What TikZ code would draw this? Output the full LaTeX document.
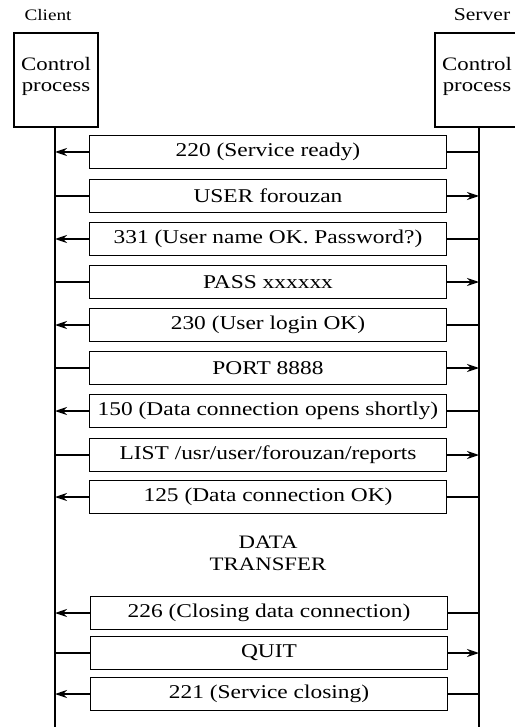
\documentclass[tikz,border=0pt]{standalone}
\usepackage{fontspec}
\setmainfont{Liberation Serif}[FakeStretch=1.2]
\usetikzlibrary{arrows.meta}

\tikzset{
  procbox/.style={draw, line width=1.6pt, minimum width=84pt, minimum height=94pt,
    align=center, inner sep=0pt, font=\fontsize{19}{21}\selectfont},
  msgbox/.style={draw, line width=1.4pt, minimum width=357pt, minimum height=33pt,
    inner sep=0pt, font=\fontsize{19.5}{20}\selectfont},
  sidelabel/.style={font=\fontsize{16}{18}\selectfont},
  wire/.style={line width=1.6pt},
  towire/.style={wire, -{Stealth[length=12pt,width=8pt]}},
}

\begin{document}
\begin{tikzpicture}[x=1pt, y=-1pt]

        \useasboundingbox (0,0) rectangle (514,727);

        %% ── Processus de contrôle ─────────────────────────────────────────
        \node[sidelabel] (clientlbl) at (48,15) {Client};
        \node[sidelabel, font=\fontsize{18}{20}\selectfont] (serverlbl) at (482,15) {Server};
        \node[procbox] (client) at (56,80) {Control\\process\\[-9pt]};
        \node[procbox] (server) at (477,80) {Control\\process\\[-9pt]};

        %% ── Lignes de vie ─────────────────────────────────────────────────
        \coordinate (cend) at (55,727);
        \coordinate (send) at (479,727);
        \draw[wire] (client.south -| cend) -- (cend);
        \draw[wire] (server.south -| send) -- (send);

        %% ── Commandes et réponses ─────────────────────────────────────────
        \node[msgbox] (m1) at (268,152) {220 (Service ready)};
        \node[msgbox] (m2) at (268,196) {USER forouzan};
        \node[msgbox] (m3) at (268,239) {331 (User name OK. Password?)};
        \node[msgbox] (m4) at (268,282) {PASS xxxxxx};
        \node[msgbox] (m5) at (268,325) {230 (User login OK)};
        \node[msgbox] (m6) at (268,368) {PORT 8888};
        \node[msgbox] (m7) at (268,411) {150 (Data connection opens shortly)};
        \node[msgbox] (m8) at (268,455) {LIST /usr/user/forouzan/reports};
        \node[msgbox] (m9) at (268,497) {125 (Data connection OK)};

        \node[font=\fontsize{19}{22}\selectfont, align=center] (data)
            at (268,553) {DATA\\TRANSFER};

        \node[msgbox] (m10) at (269,613) {226 (Closing data connection)};
        \node[msgbox] (m11) at (269,653) {QUIT};
        \node[msgbox] (m12) at (269,694) {221 (Service closing)};

        %% ── Serveur vers client ───────────────────────────────────────────
        \foreach \m in {m1,m3,m5,m7,m9,m10,m12} {
            \draw[towire] (\m.west) -- (\m.west -| cend);
            \draw[wire] (\m.east -| send) -- (\m.east);
        }

        %% ── Client vers serveur ───────────────────────────────────────────
        \foreach \m in {m2,m4,m6,m8,m11} {
            \draw[wire] (\m.west -| cend) -- (\m.west);
            \draw[towire] (\m.east) -- (\m.east -| send);
        }

    \end{tikzpicture}
\end{document}
